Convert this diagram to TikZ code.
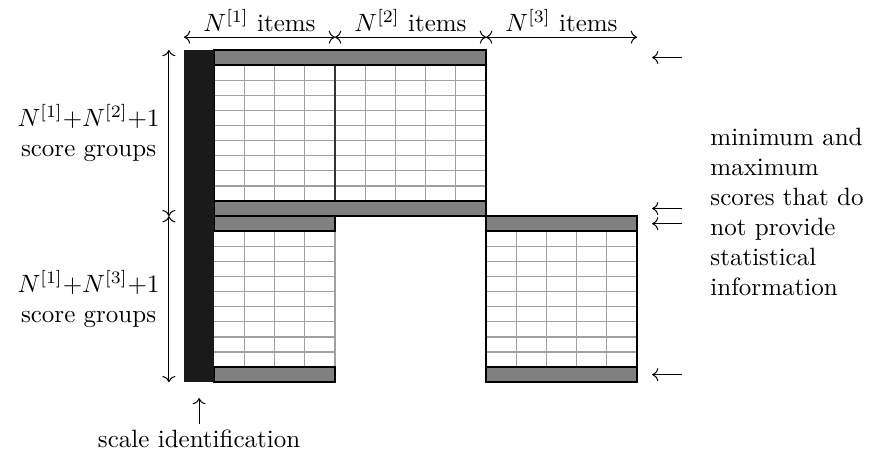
\documentclass[tikz,border=0pt]{standalone}
\usetikzlibrary{arrows.meta}
\definecolor{scalecol}{HTML}{1A1A1A}
\definecolor{barcol}{HTML}{808080}
\definecolor{gridcol}{HTML}{A0A0A0}
\definecolor{splitcol}{HTML}{333333}
\tikzset{
  gridline/.style={draw=gridcol, line width=0.5pt},
  outline/.style={draw=black, line width=0.6pt},
  extremebar/.style={fill=barcol, draw=black, line width=0.6pt},
  dimline/.style={<->, line width=0.4pt},
  pointer/.style={->, line width=0.4pt},
  lbl/.style={inner sep=2pt, font=\fontsize{10}{12}\selectfont},
}
\begin{document}
\begin{tikzpicture}[x=0.4pt,y=-0.4pt]
\useasboundingbox (0,0) rectangle (876,467);
\begin{scope}[shift={(73.6pt,-20pt)}, x=6.04pt, y=-6.04pt]
  % item response grids: upper part (blocks 1 and 2), lower part (blocks 1 and 3)
  \foreach \y in {2,...,9} \draw[gridline] (2,\y) -- (20,\y);
  \foreach \x in {4,6,8,12,14,16,18} \draw[gridline] (\x,1) -- (\x,10);
  \foreach \y in {13,...,20} {
    \draw[gridline] (2,\y) -- (10,\y);
    \draw[gridline] (20,\y) -- (30,\y);
  }
  \foreach \x in {4,6,8} \draw[gridline] (\x,12) -- (\x,21);
  \foreach \x in {22,24,26,28} \draw[gridline] (\x,12) -- (\x,21);
  \draw[gridline] (10,12) -- (10,21);
  % outlines
  \draw[outline] (2,0) rectangle (20,11);
  \draw[outline, draw=splitcol] (10,1) -- (10,10);
  \draw[outline] (20,11) rectangle (30,22);
  % minimum and maximum score bars
  \draw[extremebar] (2,0) rectangle (20,1);
  \draw[extremebar] (2,10) rectangle (20,11);
  \draw[extremebar] (2,11) rectangle (10,12);
  \draw[extremebar] (20,11) rectangle (30,12);
  \draw[extremebar] (2,21) rectangle (10,22);
  \draw[extremebar] (20,21) rectangle (30,22);
  % scale identification column
  \fill[scalecol] (0,0) rectangle (2,22);

  % dimension lines for the item sets
  \coordinate (t0) at (0,-0.85);
  \coordinate (t1) at (10,-0.85);
  \coordinate (t2) at (20,-0.85);
  \coordinate (t3) at (30,-0.85);
  \draw[dimline] (t0) -- (t1) node[midway, above, lbl] (n1) {$N^{[1]}$ items};
  \draw[dimline] (t1) -- (t2) node[midway, above, lbl] (n2) {$N^{[2]}$ items};
  \draw[dimline] (t2) -- (t3) node[midway, above, lbl] (n3) {$N^{[3]}$ items};

  % dimension lines for the score groups
  \coordinate (s0) at (-1,0);
  \coordinate (s1) at (-1,11);
  \coordinate (s2) at (-1,22);
  \draw[dimline] (s0) -- (s1);
  \draw[dimline] (s1) -- (s2);
  \node[lbl, anchor=east, align=center] (g1) at (-1.25,5.5)
    {$N^{[1]}{+}N^{[2]}{+}1$\\score groups};
  \node[lbl, anchor=east, align=center] (g2) at (-1.25,16.5)
    {$N^{[1]}{+}N^{[3]}{+}1$\\score groups};

  % scale identification pointer
  \coordinate (sctip) at (1,23.05);
  \node[lbl, anchor=north] (scl) at (1,24.8) {scale identification};
  \draw[pointer] (scl.north) -- (sctip);

  % pointers to the extreme score bars
  \foreach \k/\y in {a/0.5,b/10.5,c/11.5,d/21.5} {
    \coordinate (\k0) at (33,\y);
    \coordinate (\k1) at (31,\y);
    \draw[pointer] (\k0) -- (\k1);
  }
  \node[lbl, anchor=west, align=left] (info) at (34.5,10.7)
    {minimum and\\maximum\\scores that do\\not provide\\statistical\\information};
\end{scope}
\end{tikzpicture}
\end{document}
